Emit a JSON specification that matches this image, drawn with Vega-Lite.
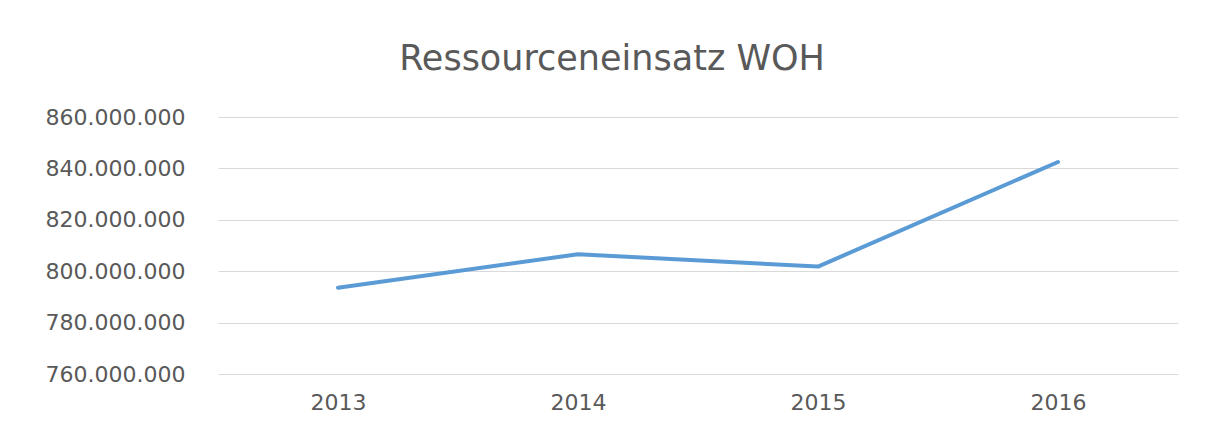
{
  "$schema": "https://vega.github.io/schema/vega-lite/v6.json",
  "width": 960,
  "height": 257,
  "autosize": {"type": "none"},
  "padding": {"left": 218, "top": 117, "right": 34, "bottom": 58},
  "background": "white",
  "title": {
    "text": "Ressourceneinsatz WOH",
    "font": "DejaVu Sans",
    "fontSize": 35,
    "fontWeight": "normal",
    "color": "#595959",
    "anchor": "middle",
    "baseline": "alphabetic",
    "offset": 1,
    "dx": -86
  },
  "data": {
    "values": [
      {"Jahr": "2013", "Wert": 793600000},
      {"Jahr": "2014", "Wert": 806600000},
      {"Jahr": "2015", "Wert": 801800000},
      {"Jahr": "2016", "Wert": 842500000}
    ]
  },
  "mark": {"type": "line", "color": "#5B9BD5", "strokeWidth": 4, "strokeCap": "round", "strokeJoin": "round"},
  "encoding": {
    "x": {
      "field": "Jahr",
      "type": "ordinal",
      "scale": {"type": "point", "padding": 0.5},
      "axis": {
        "title": null,
        "labelAngle": 0,
        "domain": false,
        "ticks": false,
        "labelFont": "DejaVu Sans",
        "labelFontSize": 22,
        "labelColor": "#595959",
        "labelPadding": 18
      }
    },
    "y": {
      "field": "Wert",
      "type": "quantitative",
      "scale": {"domain": [760000000, 860000000], "zero": false, "nice": false},
      "axis": {
        "title": null,
        "values": [760000000, 780000000, 800000000, 820000000, 840000000, 860000000],
        "format": ",.0f",
        "domain": false,
        "ticks": false,
        "grid": true,
        "gridColor": "#D9D9D9",
        "gridWidth": 1.2,
        "labelFont": "DejaVu Sans",
        "labelFontSize": 22,
        "labelColor": "#595959",
        "labelPadding": 33
      }
    }
  },
  "config": {
    "view": {"stroke": null},
    "locale": {
      "number": {"decimal": ",", "thousands": ".", "grouping": [3], "currency": ["", " €"]}
    }
  }
}
